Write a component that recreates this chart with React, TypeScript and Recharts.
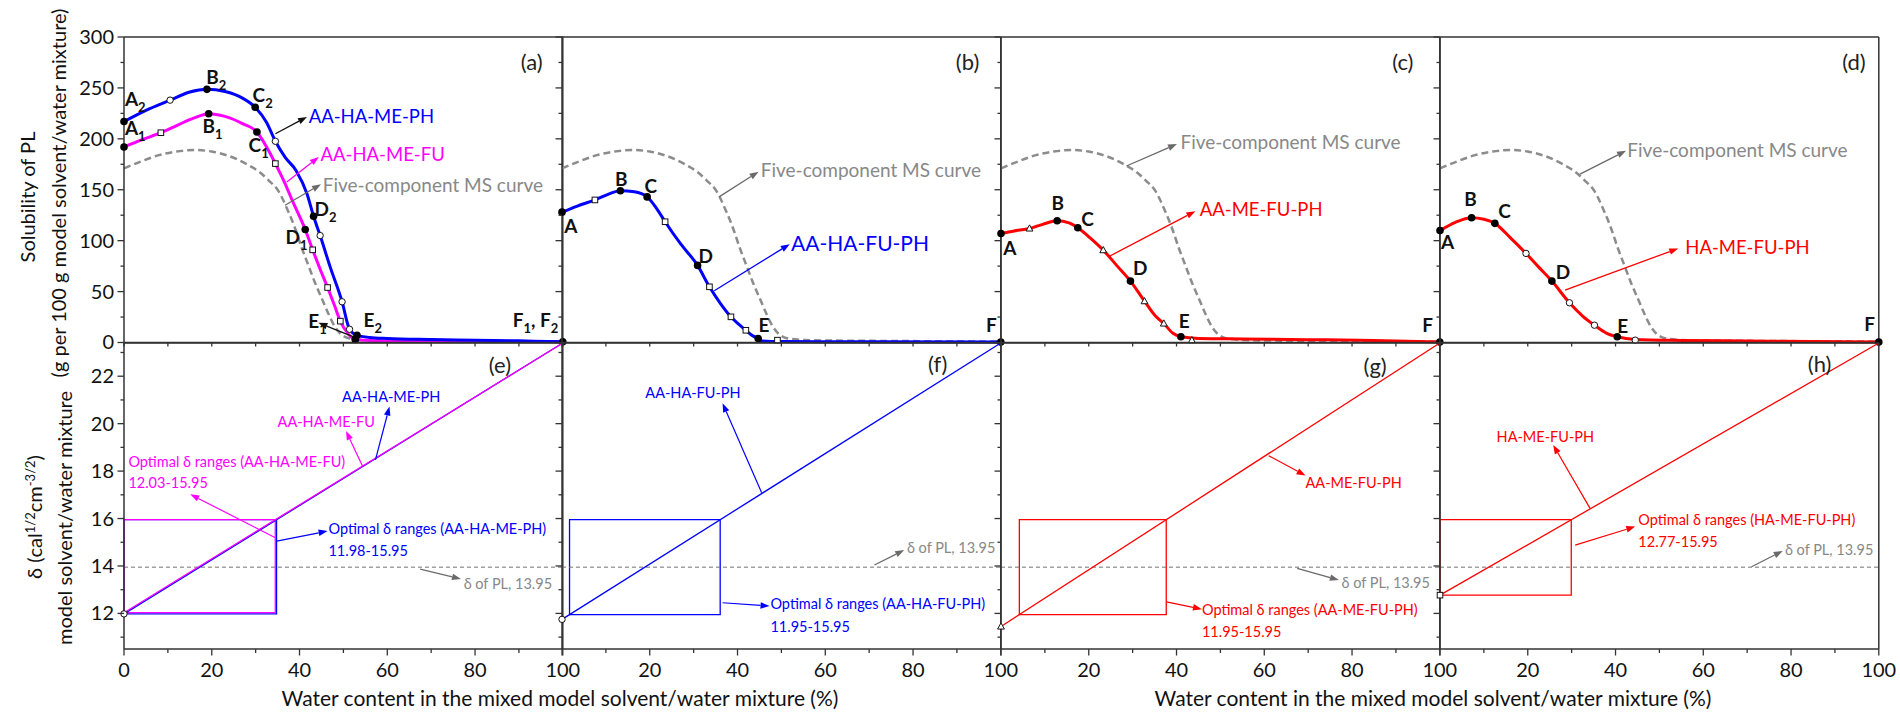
import React from 'react';
import {
  ComposedChart,
  Line,
  Scatter,
  XAxis,
  YAxis,
  ReferenceLine,
  ReferenceDot,
  ReferenceArea,
} from 'recharts';

// ─── Palette ──────────────────────────────────────────────
const FONT = 'Lato, "Open Sans", "DejaVu Sans", sans-serif';
const BLUE = '#0000ff';
const MAGENTA = '#ff00ff';
const RED = '#ff0000';
const MS_GRAY = '#8c8c8c';
const NOTE_GRAY = '#888888';
const ARROW_GRAY = '#6a6a6a';
const AXIS = '#333333';
const INK = '#111111';

// ─── Layout ───────────────────────────────────────────────
const COL_X = [123.5, 562.3, 1001.1, 1439.9];
const PANEL_W = 438.8;
const TOP_Y = 37;
const TOP_H = 305.5;
const BOT_Y = 342.5;
const BOT_H = 306;
// outer box around each plot; axes take 1px of it on every side
const PAD = { top: 30, right: 40, bottom: 50, left: 70 };
const M = { top: PAD.top - 1, right: PAD.right - 1, bottom: PAD.bottom - 1, left: PAD.left - 1 };

// ─── Axes ─────────────────────────────────────────────────
const X_TICKS = [0, 10, 20, 30, 40, 50, 60, 70, 80, 90, 100];
const SOL_DOMAIN: [number, number] = [0, 300];
const SOL_TICKS = [0, 25, 50, 75, 100, 125, 150, 175, 200, 225, 250, 275, 300];
const DELTA_DOMAIN: [number, number] = [10.5, 23.4];
const DELTA_TICKS = [11, 12, 13, 14, 15, 16, 17, 18, 19, 20, 21, 22, 23];

// ─── Solubility of PL (g / 100 g), x = water content (%) ──
const MS_CURVE = [
  [0, 171], [4, 178], [8, 184], [12, 187.5], [16, 189], [20, 187.5], [24, 183],
  [28, 175], [31, 167], [33, 159], [35, 150], [37.5, 128], [39, 112], [40.5, 93],
  [42, 76], [43.5, 59], [45, 44], [46.5, 29], [48, 16], [49.5, 8], [51, 4.5],
  [54, 2.8], [60, 2], [75, 1.5], [100, 1],
];

const SOL_AAHAMEPH = [
  [0, 217], [5, 228], [10.5, 238], [15, 246], [18.9, 248.6], [23, 246.5], [27, 240],
  [29.9, 231], [32.5, 216], [34.5, 197.6], [36.7, 182], [39.2, 169], [41.7, 146],
  [43.2, 124], [44.7, 105], [47, 74], [49.7, 40], [51.4, 13], [53.1, 7], [56, 5],
  [60, 4], [70, 3], [80, 2.3], [90, 1.6], [100, 0.8],
];
const SOL_AAHAMEFU = [
  [0, 192], [4, 199], [8.4, 206], [12, 213], [16, 220.5], [19.3, 224.7], [23, 222],
  [27, 215], [30.3, 206.7], [32.5, 192], [34.5, 175.7], [36.5, 158], [38.5, 138],
  [41.3, 111], [43, 91], [44.7, 72], [46.4, 54], [48, 36], [49.3, 21], [51, 9],
  [52.7, 3], [56, 2], [60, 1.6], [80, 1], [100, 0.8],
];
const SOL_AAHAFUPH = [
  [0, 128], [3.5, 134], [7.5, 140], [10.5, 145.5], [13.3, 149], [16.5, 148], [19.4, 143],
  [21.5, 132], [23.5, 118.6], [27, 97], [30.9, 75.7], [33.6, 54.7], [36, 39],
  [38.5, 25.2], [41.9, 12], [43.5, 6.5], [44.7, 3.9], [45.5, 1.5], [50, 0.9],
  [70, 0.7], [100, 0.4],
];
const SOL_AAMEFUPH = [
  [0, 107], [3, 109.5], [6.5, 112], [9.5, 116], [12.8, 119.6], [15.5, 117.5],
  [17.5, 112.7], [20.5, 102], [23.3, 90.7], [26.5, 75], [29.5, 60.3], [32.7, 40.6],
  [35.2, 26], [37.1, 18.7], [39.2, 9], [41, 5.6], [45, 4], [55, 3.5], [70, 2.8],
  [85, 2], [100, 0.4],
];
const SOL_HAMEFUPH = [
  [0, 110], [3.5, 118], [7.2, 122.5], [10, 121], [12.5, 117], [16, 103], [19.6, 87.5],
  [22.5, 74], [25.5, 60.3], [29.5, 39], [32.5, 26], [35.2, 17], [38, 9], [40.4, 5.6],
  [44.5, 3], [55, 2], [70, 1.5], [85, 1], [100, 0.4],
];

// lettered points A..F on each curve
const KEY_AAHAMEPH = [[0, 217], [18.9, 248.6], [29.9, 231], [43.2, 124], [53.1, 7], [100, 0.8]];
const KEY_AAHAMEFU = [[0, 192], [19.3, 224.7], [30.3, 206.7], [41.3, 111], [52.7, 3]];
const KEY_AAHAFUPH = [[0, 128], [13.3, 149], [19.4, 143], [30.9, 75.7], [44.7, 3.9], [100, 0.4]];
const KEY_AAMEFUPH = [[0, 107], [12.8, 119.6], [17.5, 112.7], [29.5, 60.3], [41, 5.6], [100, 0.4]];
const KEY_HAMEFUPH = [[0, 110], [7.2, 122.5], [12.5, 117], [25.5, 60.3], [40.4, 5.6], [100, 0.4]];

// measured points between the lettered ones
const EXP_AAHAMEPH = [[10.5, 238], [34.5, 197.6], [44.7, 105], [49.7, 40], [51.4, 13]];
const EXP_AAHAMEFU = [[8.4, 206], [34.5, 175.7], [43, 91], [46.4, 54], [49.3, 21]];
const EXP_AAHAFUPH = [[7.5, 140], [23.5, 118.6], [33.6, 54.7], [38.5, 25.2], [41.9, 12], [49.1, 2.3]];
const EXP_AAMEFUPH = [[6.5, 112], [23.3, 90.7], [32.7, 40.6], [37.1, 18.7], [43.5, 2.3]];
const EXP_HAMEFUPH = [[19.6, 87.5], [29.5, 39], [35.2, 17], [44.5, 2.3]];

// ─── δ of the solvent/water mixture, (cal/cm3)^1/2 ────────
const DELTA_AAHAMEPH = [[0, 11.98], [100, 23.4]];
const DELTA_AAHAMEFU = [[0, 12.03], [100, 23.4]];
const DELTA_AAHAFUPH = [[0, 11.75], [100, 23.4]];
const DELTA_AAMEFUPH = [[0, 11.45], [100, 23.4]];
const DELTA_HAMEFUPH = [[0, 12.77], [100, 23.4]];

const RANGE_AAHAMEPH = [11.98, 15.95];
const RANGE_AAHAMEFU = [12.03, 15.95];
const RANGE_AAHAFUPH = [11.95, 15.95];
const RANGE_AAMEFUPH = [11.95, 15.95];
const RANGE_HAMEFUPH = [12.77, 15.95];

const DELTA_PL = 13.95;

// ─── Helpers ──────────────────────────────────────────────
type Pt = { x: number; v: number };
const pts = (rows: number[][]): Pt[] => rows.map(([x, v]) => ({ x, v }));
const fmtRange = (r: number[]) => `${r[0].toFixed(2)}-${r[1].toFixed(2)}`;

// water content at which a straight δ line reaches a given δ
function xAtDelta(line: number[][], d: number): number {
  const [[x0, v0], [x1, v1]] = line;
  const x = x0 + ((d - v0) * (x1 - x0)) / (v1 - v0);
  return Math.min(100, Math.max(0, x));
}

type Marker = 'circle' | 'square' | 'triangle';
interface Note { x: number; v: number; text: string; color: string; size: number }
interface Arrow { from: [number, number]; to: [number, number]; color: string }
interface Letter { x: number; v: number; parts: [string, string?][] }

const axisLine = { stroke: AXIS, strokeWidth: 1.5 };

function yTick(majorEvery: number, labelled: boolean) {
  return (p: any) => {
    const v = p.payload.value as number;
    const major = Math.abs(v / majorEvery - Math.round(v / majorEvery)) < 1e-6;
    const len = major ? 6.5 : 3.5;
    return (
      <g>
        <line x1={p.x} y1={p.y} x2={p.x - len} y2={p.y} stroke={AXIS} strokeWidth={1.3} />
        {labelled && major && (
          <text x={p.x - 10} y={p.y + 7} textAnchor="end" fontSize={20} fontFamily={FONT} fill={INK}>
            {v}
          </text>
        )}
      </g>
    );
  };
}

function xTick(labelled: boolean, skipZero: boolean) {
  return (p: any) => {
    const v = p.payload.value as number;
    const major = v % 20 === 0;
    const len = labelled && major ? 6.5 : 4;
    return (
      <g>
        <line x1={p.x} y1={p.y} x2={p.x} y2={p.y + len} stroke={AXIS} strokeWidth={1.3} />
        {labelled && major && !(skipZero && v === 0) && (
          <text x={p.x} y={p.y + 28} textAnchor="middle" fontSize={20} fontFamily={FONT} fill={INK}>
            {v}
          </text>
        )}
      </g>
    );
  };
}

const solidDot = (p: any) => <circle cx={p.cx} cy={p.cy} r={3.8} fill="#000" />;

function openMarker(kind: Marker) {
  return (p: any) => {
    const { cx, cy } = p;
    if (kind === 'square') {
      return <rect x={cx - 2.8} y={cy - 2.8} width={5.6} height={5.6} fill="#fff" stroke={INK} strokeWidth={1} />;
    }
    if (kind === 'triangle') {
      return (
        <polygon
          points={`${cx},${cy - 3.6} ${cx - 3.4},${cy + 2.6} ${cx + 3.4},${cy + 2.6}`}
          fill="#fff"
          stroke={INK}
          strokeWidth={1}
        />
      );
    }
    return <circle cx={cx} cy={cy} r={3.2} fill="#fff" stroke={INK} strokeWidth={1} />;
  };
}

function arrowShape(color: string, w: number) {
  return (p: any) => {
    const { x1, y1, x2, y2 } = p;
    const a = Math.atan2(y2 - y1, x2 - x1);
    const head = 9;
    const half = 3.3;
    const hx = x2 - head * Math.cos(a);
    const hy = y2 - head * Math.sin(a);
    const l = `${hx + half * Math.sin(a)},${hy - half * Math.cos(a)}`;
    const r = `${hx - half * Math.sin(a)},${hy + half * Math.cos(a)}`;
    return (
      <g>
        <line x1={x1} y1={y1} x2={hx} y2={hy} stroke={color} strokeWidth={w} />
        <polygon points={`${x2},${y2} ${l} ${r}`} fill={color} />
      </g>
    );
  };
}

const arrowEl = (key: string, a: Arrow, w: number) => (
  <ReferenceLine
    key={key}
    segment={[{ x: a.from[0], y: a.from[1] }, { x: a.to[0], y: a.to[1] }]}
    ifOverflow="visible"
    shape={arrowShape(a.color, w)}
  />
);

const noteEl = (key: string, n: Note) => (
  <ReferenceDot
    key={key}
    x={n.x}
    y={n.v}
    r={0}
    ifOverflow="visible"
    shape={(p: any) => (
      <text x={p.cx} y={p.cy + n.size * 0.35} fontSize={n.size} fontFamily={FONT} fill={n.color}>
        {n.text}
      </text>
    )}
  />
);

const tagEl = (key: string, x: number, v: number, text: string) => (
  <ReferenceDot
    key={key}
    x={x}
    y={v}
    r={0}
    ifOverflow="visible"
    shape={(p: any) => (
      <text x={p.cx} y={p.cy + 8} textAnchor="end" fontSize={22} fontFamily={FONT} fill="#222">
        {text}
      </text>
    )}
  />
);

const letterEl = (key: string, l: Letter) => (
  <ReferenceDot
    key={key}
    x={l.x}
    y={l.v}
    r={0}
    ifOverflow="visible"
    shape={(p: any) => (
      <text x={p.cx} y={p.cy + 6.5} fontSize={19} fontWeight={700} fontFamily={FONT} fill={INK}>
        {l.parts.map(([main, sub], i) => [
          <tspan key={`m${i}`} dy={i > 0 ? -6 : 0}>{main}</tspan>,
          sub ? <tspan key={`s${i}`} fontSize={13} dy={6}>{sub}</tspan> : null,
        ])}
      </text>
    )}
  />
);

// ─── Panel configs ────────────────────────────────────────
const MS_LABEL = 'Five-component MS curve';

interface Series { data: number[][]; key: number[][]; exp: number[][]; color: string; marker: Marker }
interface TopCfg {
  col: number; series: Series[]; letters: Letter[]; notes: Note[]; arrows: Arrow[];
  tag: [number, number, string];
}

const TOP_PANELS: TopCfg[] = [
  {
    col: 0,
    series: [
      { data: SOL_AAHAMEFU, key: KEY_AAHAMEFU, exp: EXP_AAHAMEFU, color: MAGENTA, marker: 'square' },
      { data: SOL_AAHAMEPH, key: KEY_AAHAMEPH, exp: EXP_AAHAMEPH, color: BLUE, marker: 'circle' },
    ],
    letters: [
      { x: 0.2, v: 238.8, parts: [['A', '2']] },
      { x: 0.2, v: 210, parts: [['A', '1']] },
      { x: 18.75, v: 260, parts: [['B', '2']] },
      { x: 17.9, v: 212.3, parts: [['B', '1']] },
      { x: 29.3, v: 242.7, parts: [['C', '2']] },
      { x: 28.4, v: 193.7, parts: [['C', '1']] },
      { x: 43.4, v: 130.5, parts: [['D', '2']] },
      { x: 36.8, v: 102.7, parts: [['D', '1']] },
      { x: 42, v: 20.3, parts: [['E', '1']] },
      { x: 54.6, v: 21.3, parts: [['E', '2']] },
      { x: 88.6, v: 21.3, parts: [['F', '1'], [', F', '2']] },
    ],
    notes: [
      { x: 42.1, v: 221.5, text: 'AA-HA-ME-PH', color: BLUE, size: 18.5 },
      { x: 44.8, v: 184.8, text: 'AA-HA-ME-FU', color: MAGENTA, size: 18.5 },
      { x: 45.3, v: 154.4, text: MS_LABEL, color: NOTE_GRAY, size: 19 },
    ],
    arrows: [
      { from: [34.5, 205], to: [41.7, 221.5], color: INK },
      { from: [37.1, 157.7], to: [44.4, 182.2], color: MAGENTA },
      { from: [36.7, 134.8], to: [44.9, 155.4], color: ARROW_GRAY },
      { from: [52.3, 5.6], to: [44.3, 19.3], color: INK },
    ],
    tag: [95.4, 275, '(a)'],
  },
  {
    col: 1,
    series: [{ data: SOL_AAHAFUPH, key: KEY_AAHAFUPH, exp: EXP_AAHAFUPH, color: BLUE, marker: 'square' }],
    letters: [
      { x: 0.5, v: 113.7, parts: [['A']] },
      { x: 12.1, v: 160.5, parts: [['B']] },
      { x: 18.8, v: 153, parts: [['C']] },
      { x: 31.1, v: 84, parts: [['D']] },
      { x: 44.8, v: 17, parts: [['E']] },
      { x: 96.6, v: 17, parts: [['F']] },
    ],
    notes: [
      { x: 52.2, v: 96.6, text: 'AA-HA-FU-PH', color: BLUE, size: 21 },
      { x: 45.3, v: 169.3, text: MS_LABEL, color: NOTE_GRAY, size: 19 },
    ],
    arrows: [
      { from: [34.7, 50.8], to: [51.9, 96.6], color: BLUE },
      { from: [35.8, 143], to: [44.8, 167.7], color: ARROW_GRAY },
    ],
    tag: [95.1, 275, '(b)'],
  },
  {
    col: 2,
    series: [{ data: SOL_AAMEFUPH, key: KEY_AAMEFUPH, exp: EXP_AAMEFUPH, color: RED, marker: 'triangle' }],
    letters: [
      { x: 0.5, v: 92.4, parts: [['A']] },
      { x: 11.5, v: 136.6, parts: [['B']] },
      { x: 18.3, v: 120.9, parts: [['C']] },
      { x: 30.1, v: 72.7, parts: [['D']] },
      { x: 40.5, v: 20.3, parts: [['E']] },
      { x: 96, v: 17, parts: [['F']] },
    ],
    notes: [
      { x: 45.3, v: 131, text: 'AA-ME-FU-PH', color: RED, size: 18.5 },
      { x: 40.9, v: 196.5, text: MS_LABEL, color: NOTE_GRAY, size: 19 },
    ],
    arrows: [
      { from: [24.5, 84.2], to: [44.3, 129], color: RED },
      { from: [28.6, 173.3], to: [40.1, 194.9], color: ARROW_GRAY },
    ],
    tag: [94, 275, '(c)'],
  },
  {
    col: 3,
    series: [{ data: SOL_HAMEFUPH, key: KEY_HAMEFUPH, exp: EXP_HAMEFUPH, color: RED, marker: 'circle' }],
    letters: [
      { x: 0.2, v: 98, parts: [['A']] },
      { x: 5.5, v: 140.5, parts: [['B']] },
      { x: 13.3, v: 129, parts: [['C']] },
      { x: 26.4, v: 68.5, parts: [['D']] },
      { x: 40.4, v: 16, parts: [['E']] },
      { x: 96.7, v: 18, parts: [['F']] },
    ],
    notes: [
      { x: 55.9, v: 93.3, text: 'HA-ME-FU-PH', color: RED, size: 18.5 },
      { x: 42.7, v: 188.3, text: MS_LABEL, color: NOTE_GRAY, size: 19 },
    ],
    arrows: [
      { from: [28.5, 51.4], to: [54.3, 92.4], color: RED },
      { from: [31.9, 165.4], to: [42.4, 188.3], color: ARROW_GRAY },
    ],
    tag: [97, 275, '(d)'],
  },
];

interface DeltaSeries { data: number[][]; range: number[]; color: string; marker?: Marker }
interface BotCfg { col: number; lines: DeltaSeries[]; notes: Note[]; arrows: Arrow[]; tag: [number, number, string] }

const SMALL = 14.5;
const plNote = (x: number, v: number): Note => ({ x, v, text: `δ of PL, ${DELTA_PL}`, color: NOTE_GRAY, size: SMALL });

const BOT_PANELS: BotCfg[] = [
  {
    col: 0,
    lines: [
      { data: DELTA_AAHAMEPH, range: RANGE_AAHAMEPH, color: BLUE, marker: 'circle' },
      { data: DELTA_AAHAMEFU, range: RANGE_AAHAMEFU, color: MAGENTA },
    ],
    notes: [
      { x: 49.7, v: 21.11, text: 'AA-HA-ME-PH', color: BLUE, size: SMALL },
      { x: 35, v: 20.09, text: 'AA-HA-ME-FU', color: MAGENTA, size: SMALL },
      { x: 1, v: 18.4, text: 'Optimal δ ranges (AA-HA-ME-FU)', color: MAGENTA, size: SMALL },
      { x: 1, v: 17.49, text: fmtRange(RANGE_AAHAMEFU), color: MAGENTA, size: SMALL },
      { x: 46.6, v: 15.56, text: 'Optimal δ ranges (AA-HA-ME-PH)', color: BLUE, size: SMALL },
      { x: 46.6, v: 14.64, text: fmtRange(RANGE_AAHAMEPH), color: BLUE, size: SMALL },
      plNote(77.4, 13.24),
    ],
    arrows: [
      { from: [57.3, 18.47], to: [60.5, 20.72], color: BLUE },
      { from: [54.4, 18.19], to: [50.6, 19.69], color: MAGENTA },
      { from: [34.5, 15.19], to: [15.1, 17.02], color: MAGENTA },
      { from: [34.8, 15.05], to: [46.4, 15.47], color: BLUE },
      { from: [67.5, 13.87], to: [76.8, 13.45], color: ARROW_GRAY },
    ],
    tag: [88.2, 22.48, '(e)'],
  },
  {
    col: 1,
    lines: [{ data: DELTA_AAHAFUPH, range: RANGE_AAHAFUPH, color: BLUE, marker: 'circle' }],
    notes: [
      { x: 19, v: 21.28, text: 'AA-HA-FU-PH', color: BLUE, size: SMALL },
      { x: 47.5, v: 12.38, text: 'Optimal δ ranges (AA-HA-FU-PH)', color: BLUE, size: SMALL },
      { x: 47.5, v: 11.44, text: fmtRange(RANGE_AAHAFUPH), color: BLUE, size: SMALL },
      plNote(78.6, 14.74),
    ],
    arrows: [
      { from: [45.5, 17.09], to: [36.6, 20.86], color: BLUE },
      { from: [36.6, 12.45], to: [47.3, 12.31], color: BLUE },
      { from: [71.2, 14.04], to: [78, 14.67], color: ARROW_GRAY },
    ],
    tag: [87.8, 22.5, '(f)'],
  },
  {
    col: 2,
    lines: [{ data: DELTA_AAMEFUPH, range: RANGE_AAMEFUPH, color: RED, marker: 'triangle' }],
    notes: [
      { x: 69.4, v: 17.49, text: 'AA-ME-FU-PH', color: RED, size: SMALL },
      { x: 45.8, v: 12.14, text: 'Optimal δ ranges (AA-ME-FU-PH)', color: RED, size: SMALL },
      { x: 45.8, v: 11.2, text: fmtRange(RANGE_AAMEFUPH), color: RED, size: SMALL },
      plNote(77.6, 13.27),
    ],
    arrows: [
      { from: [61, 18.65], to: [69.4, 17.81], color: RED },
      { from: [37.7, 12.49], to: [45.8, 12.18], color: RED },
      { from: [67.5, 13.9], to: [77, 13.41], color: ARROW_GRAY },
    ],
    tag: [87.9, 22.45, '(g)'],
  },
  {
    col: 3,
    lines: [{ data: DELTA_HAMEFUPH, range: RANGE_HAMEFUPH, color: RED, marker: 'square' }],
    notes: [
      { x: 12.9, v: 19.45, text: 'HA-ME-FU-PH', color: RED, size: SMALL },
      { x: 45.2, v: 15.94, text: 'Optimal δ ranges (HA-ME-FU-PH)', color: RED, size: SMALL },
      { x: 45.2, v: 15.02, text: fmtRange(RANGE_HAMEFUPH), color: RED, size: SMALL },
      plNote(78.6, 14.67),
    ],
    arrows: [
      { from: [34.2, 16.43], to: [25.8, 19.1], color: RED },
      { from: [30.8, 14.88], to: [44.5, 15.66], color: RED },
      { from: [71, 13.97], to: [78.1, 14.63], color: ARROW_GRAY },
    ],
    tag: [89.2, 22.5, '(h)'],
  },
];

// ─── Panels ───────────────────────────────────────────────
const chartW = PANEL_W + PAD.left + PAD.right;

function SolubilityPanel({ cfg }: { cfg: TopCfg }) {
  const { col } = cfg;
  return (
    <div style={{ position: 'absolute', left: COL_X[col] - PAD.left, top: TOP_Y - PAD.top }}>
      <ComposedChart width={chartW} height={TOP_H + PAD.top + PAD.bottom} margin={M}>
        <XAxis
          type="number" dataKey="x" domain={[0, 100]} ticks={X_TICKS} interval={0} height={1}
          tickSize={0} tickMargin={0} tickLine={false} tick={xTick(false, false)} axisLine={axisLine}
        />
        <XAxis xAxisId="top" orientation="top" type="number" dataKey="x" domain={[0, 100]} height={1} tick={false} tickLine={false} axisLine={axisLine} />
        <YAxis
          type="number" domain={SOL_DOMAIN} ticks={SOL_TICKS} interval={0} width={1}
          tickSize={0} tickMargin={0} tickLine={false} tick={yTick(50, col === 0)} axisLine={axisLine}
        />
        <YAxis
          yAxisId="right" orientation="right" type="number" domain={SOL_DOMAIN} ticks={SOL_TICKS} interval={0} width={1}
          tickSize={0} tickMargin={0} tickLine={false} tick={col === 3 ? yTick(50, false) : false} axisLine={axisLine}
        />
        <Line
          data={pts(MS_CURVE)} dataKey="v" type="monotone" stroke={MS_GRAY} strokeWidth={2.5}
          strokeDasharray="7 4" dot={false} activeDot={false} isAnimationActive={false}
        />
        {cfg.series.map((s, i) => (
          <Line
            key={`c${i}`} data={pts(s.data)} dataKey="v" type="monotone" stroke={s.color} strokeWidth={3}
            dot={false} activeDot={false} isAnimationActive={false}
          />
        ))}
        {cfg.series.map((s, i) => (
          <Scatter key={`e${i}`} data={pts(s.exp)} dataKey="v" shape={openMarker(s.marker)} isAnimationActive={false} />
        ))}
        {cfg.series.map((s, i) => (
          <Scatter key={`k${i}`} data={pts(s.key)} dataKey="v" shape={solidDot} isAnimationActive={false} />
        ))}
        {cfg.arrows.map((a, i) => arrowEl(`a${i}`, a, 1.3))}
        {cfg.notes.map((n, i) => noteEl(`n${i}`, n))}
        {cfg.letters.map((l, i) => letterEl(`l${i}`, l))}
        {tagEl('tag', cfg.tag[0], cfg.tag[1], cfg.tag[2])}
      </ComposedChart>
    </div>
  );
}

function DeltaPanel({ cfg }: { cfg: BotCfg }) {
  const { col } = cfg;
  return (
    <div style={{ position: 'absolute', left: COL_X[col] - PAD.left, top: BOT_Y - PAD.top }}>
      <ComposedChart width={chartW} height={BOT_H + PAD.top + PAD.bottom} margin={M}>
        <XAxis
          type="number" dataKey="x" domain={[0, 100]} ticks={X_TICKS} interval={0} height={1}
          tickSize={0} tickMargin={0} tickLine={false} tick={xTick(true, col > 0)} axisLine={axisLine}
        />
        <XAxis xAxisId="top" orientation="top" type="number" dataKey="x" domain={[0, 100]} height={1} tick={false} tickLine={false} axisLine={axisLine} />
        <YAxis
          type="number" domain={DELTA_DOMAIN} ticks={DELTA_TICKS} interval={0} width={1}
          tickSize={0} tickMargin={0} tickLine={false} tick={yTick(2, col === 0)} axisLine={axisLine}
        />
        <YAxis
          yAxisId="right" orientation="right" type="number" domain={DELTA_DOMAIN} ticks={DELTA_TICKS} interval={0} width={1}
          tickSize={0} tickMargin={0} tickLine={false} tick={col === 3 ? yTick(2, false) : false} axisLine={axisLine}
        />
        <ReferenceLine y={DELTA_PL} stroke="#707070" strokeWidth={1} strokeDasharray="4 3" />
        {cfg.lines.map((s, i) => (
          <ReferenceArea
            key={`r${i}`}
            x1={xAtDelta(s.data, s.range[0])}
            x2={xAtDelta(s.data, s.range[1])}
            y1={s.range[0]}
            y2={s.range[1]}
            fill="none"
            stroke={s.color}
            strokeWidth={1.3}
            ifOverflow="visible"
          />
        ))}
        {cfg.lines.map((s, i) => (
          <Line
            key={`d${i}`} data={pts(s.data)} dataKey="v" type="linear" stroke={s.color} strokeWidth={1.3}
            dot={false} activeDot={false} isAnimationActive={false}
          />
        ))}
        {cfg.lines.filter((s) => s.marker).map((s, i) => (
          <Scatter key={`m${i}`} data={pts(s.data.slice(0, 1))} dataKey="v" shape={openMarker(s.marker as Marker)} isAnimationActive={false} />
        ))}
        {cfg.arrows.map((a, i) => arrowEl(`a${i}`, a, 1.2))}
        {cfg.notes.map((n, i) => noteEl(`n${i}`, n))}
        {tagEl('tag', cfg.tag[0], cfg.tag[1], cfg.tag[2])}
      </ComposedChart>
    </div>
  );
}

// ─── Shared axis titles ───────────────────────────────────
function Titles() {
  const t = { fontFamily: FONT, fill: INK, fontSize: 20, textAnchor: 'middle' as const };
  const xTitle = 'Water content in the mixed model solvent/water mixture (%)';
  return (
    <svg width={1900} height={714} style={{ position: 'absolute', left: 0, top: 0, pointerEvents: 'none' }}>
      <text {...t} transform="translate(28,197) rotate(-90)" dy="0.35em">Solubility of PL</text>
      <text {...t} transform="translate(59,193) rotate(-90)" dy="0.35em">(g per 100 g model solvent/water mixture)</text>
      <text {...t} transform="translate(35,517) rotate(-90)" dy="0.35em">
        δ (cal<tspan fontSize={13} dy={-7}>1/2</tspan>
        <tspan dy={7}>cm</tspan>
        <tspan fontSize={13} dy={-7}>-3/2</tspan>
        <tspan dy={7}>)</tspan>
      </text>
      <text {...t} transform="translate(65,518) rotate(-90)" dy="0.35em">model solvent/water mixture</text>
      <text {...t} fontSize={21} x={560} y={706}>{xTitle}</text>
      <text {...t} fontSize={21} x={1433} y={706}>{xTitle}</text>
    </svg>
  );
}

export default function App() {
  return (
    <div style={{ position: 'absolute', left: 0, top: 0, width: 1900, height: 714, background: '#fff', overflow: 'hidden' }}>
      {TOP_PANELS.map((cfg) => <SolubilityPanel key={`t${cfg.col}`} cfg={cfg} />)}
      {BOT_PANELS.map((cfg) => <DeltaPanel key={`b${cfg.col}`} cfg={cfg} />)}
      <Titles />
    </div>
  );
}
